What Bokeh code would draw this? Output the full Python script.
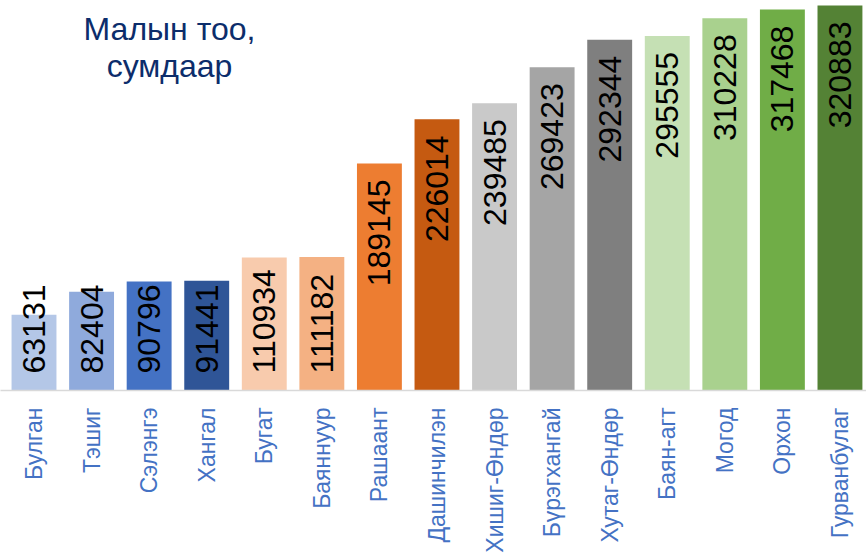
import math
from bokeh.plotting import figure
from bokeh.models import ColumnDataSource, Range1d, FixedTicker, LabelSet, Label
from bokeh.core.properties import value
from bokeh.embed import file_html
from bokeh.resources import INLINE

# ---- data ----
soums = ["Булган", "Тэшиг", "Сэлэнгэ", "Хангал", "Бугат", "Баяннуур", "Рашаант",
         "Дашинчилэн", "Хишиг-Өндөр", "Бүрэгхангай", "Хутаг-Өндөр", "Баян-агт",
         "Могод", "Орхон", "Гурванбулаг"]
livestock = [63131, 82404, 90796, 91441, 110934, 111182, 189145,
             226014, 239485, 269423, 292344, 295555, 310228, 317468, 320883]
colors = ["#B4C7E7", "#8FAADC", "#4472C4", "#2F5597", "#F8CBAD", "#F4B183", "#ED7D31",
          "#C55A11", "#C9C9C9", "#A5A5A5", "#7F7F7F", "#C5E0B4", "#A9D18E", "#70AD47",
          "#548235"]
title_lines = ["Малын тоо,", "сумдаар"]

FONT = "Liberation Sans"
idx = list(range(len(soums)))
labels = [str(v) for v in livestock]

# labels that do not fit inside the bar top are anchored from the base
short = [v < 115000 for v in livestock]

src_top = ColumnDataSource(dict(
    x=[i for i, s in zip(idx, short) if not s],
    y=[v for v, s in zip(livestock, short) if not s],
    t=[l for l, s in zip(labels, short) if not s]))
src_base = ColumnDataSource(dict(
    x=[i for i, s in zip(idx, short) if s],
    y=[0 for s in short if s],
    t=[l for l, s in zip(labels, short) if s]))

bars = ColumnDataSource(dict(x=idx, top=livestock, color=colors))

p = figure(width=866, height=558, output_backend="svg", toolbar_location=None,
           x_range=Range1d(-0.582, 14.461), y_range=Range1d(0, 325040),
           min_border_left=0, min_border_right=0, min_border_top=0, min_border_bottom=168)
p.outline_line_color = None
p.background_fill_color = "white"
p.border_fill_color = "white"
p.xgrid.visible = False
p.ygrid.visible = False
p.yaxis.visible = False

p.vbar(x="x", top="top", width=0.78, bottom=0, source=bars,
       fill_color="color", line_color=None)

xa = p.xaxis[0]
xa.ticker = FixedTicker(ticks=idx)
xa.major_label_overrides = {i: s for i, s in zip(idx, soums)}
xa.major_label_orientation = math.pi / 2
xa.major_label_text_font = FONT
xa.major_label_text_font_size = "23px"
xa.major_label_text_color = "#4472C4"
xa.major_tick_line_color = None
xa.minor_tick_line_color = None
xa.major_tick_out = 0
xa.major_tick_in = 0
xa.major_label_standoff = 17
xa.axis_line_color = "#D9D9D9"
xa.axis_line_width = 1.5

common = dict(x="x", y="y", text="t", angle=math.pi / 2, text_font=value(FONT),
              text_font_size=value("32px"), text_color="black", text_baseline="middle")
p.add_layout(LabelSet(source=src_top, text_align="right", y_offset=-16, **common))
p.add_layout(LabelSet(source=src_base, text_align="left", y_offset=17, **common))

p.add_layout(Label(x=169, y=362, x_units="screen", y_units="screen", text=title_lines[0],
                   text_font=FONT, text_font_size="32px", text_color="#0C2D6B",
                   text_align="center", text_baseline="alphabetic"))
p.add_layout(Label(x=169, y=325, x_units="screen", y_units="screen", text=title_lines[1],
                   text_font=FONT, text_font_size="32px", text_color="#0C2D6B",
                   text_align="center", text_baseline="alphabetic"))

open("out.html", "w").write(file_html(p, INLINE))
